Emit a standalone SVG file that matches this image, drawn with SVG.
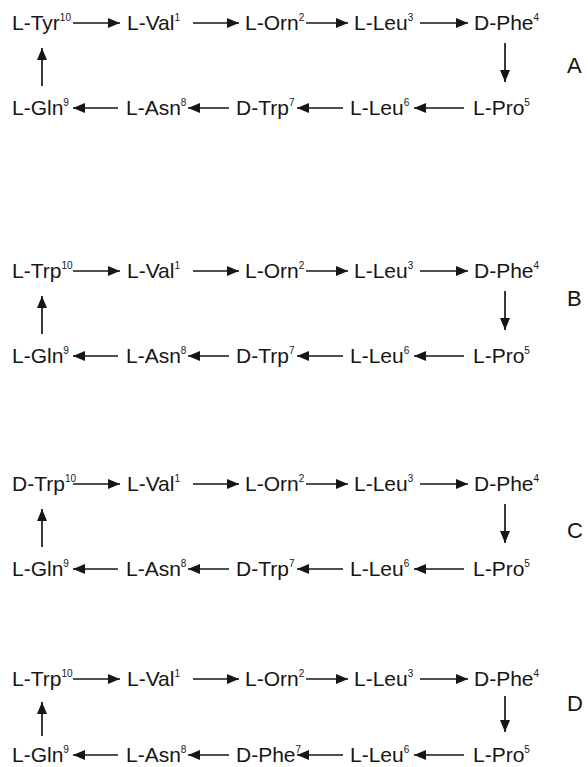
<svg xmlns="http://www.w3.org/2000/svg" width="588" height="767" viewBox="0 0 588 767">
<defs>
<style>
text{font-family:"Liberation Sans",Arial,sans-serif;font-size:21px;fill:#161616;}
.sup{font-size:10px;}
.lbl{font-size:22px;}
.c line{stroke:#161616;stroke-width:1.7;}
</style>
<marker id="ah" markerUnits="userSpaceOnUse" markerWidth="13" markerHeight="10" refX="12" refY="5" orient="auto">
<path d="M0,0 L12,5 L0,10 Z" fill="#161616"/>
</marker>
</defs>
<rect width="588" height="767" fill="#fff"/>

<!-- Panel A -->
<g id="panelA" transform="translate(0,0)">
<g id="A-n10"><text x="12" y="30">L-Tyr<tspan class="sup" dy="-9">10</tspan></text></g>
<g id="A-n1"><text x="127" y="30">L-Val<tspan class="sup" dy="-9">1</tspan></text></g>
<g id="A-n2"><text x="245" y="30">L-Orn<tspan class="sup" dy="-9">2</tspan></text></g>
<g id="A-n3"><text x="354" y="30">L-Leu<tspan class="sup" dy="-9">3</tspan></text></g>
<g id="A-n4"><text x="474" y="30">D-Phe<tspan class="sup" dy="-9">4</tspan></text></g>
<g id="A-n9"><text x="12" y="115">L-Gln<tspan class="sup" dy="-9">9</tspan></text></g>
<g id="A-n8"><text x="126" y="115">L-Asn<tspan class="sup" dy="-9">8</tspan></text></g>
<g id="A-n7"><text x="236" y="115">D-Trp<tspan class="sup" dy="-9">7</tspan></text></g>
<g id="A-n6"><text x="350" y="115">L-Leu<tspan class="sup" dy="-9">6</tspan></text></g>
<g id="A-n5"><text x="473" y="115">L-Pro<tspan class="sup" dy="-9">5</tspan></text></g>
<g id="A-label"><text class="lbl" x="567" y="73">A</text></g>
<g id="A-connectors" class="c">
<line x1="73" y1="23" x2="120" y2="23" marker-end="url(#ah)"/>
<line x1="193" y1="23" x2="239" y2="23" marker-end="url(#ah)"/>
<line x1="306" y1="23" x2="348" y2="23" marker-end="url(#ah)"/>
<line x1="420" y1="23" x2="468" y2="23" marker-end="url(#ah)"/>
<line x1="505" y1="43" x2="505" y2="82" marker-end="url(#ah)"/>
<line x1="464" y1="108" x2="414" y2="108" marker-end="url(#ah)"/>
<line x1="343" y1="108" x2="297" y2="108" marker-end="url(#ah)"/>
<line x1="229" y1="108" x2="188" y2="108" marker-end="url(#ah)"/>
<line x1="118" y1="108" x2="73" y2="108" marker-end="url(#ah)"/>
<line x1="42" y1="86" x2="42" y2="48" marker-end="url(#ah)"/>
</g>
</g>

<!-- Panel B -->
<g id="panelB" transform="translate(0,248)">
<g id="B-n10"><text x="12" y="30">L-Trp<tspan class="sup" dy="-9">10</tspan></text></g>
<g id="B-n1"><text x="127" y="30">L-Val<tspan class="sup" dy="-9">1</tspan></text></g>
<g id="B-n2"><text x="245" y="30">L-Orn<tspan class="sup" dy="-9">2</tspan></text></g>
<g id="B-n3"><text x="354" y="30">L-Leu<tspan class="sup" dy="-9">3</tspan></text></g>
<g id="B-n4"><text x="474" y="30">D-Phe<tspan class="sup" dy="-9">4</tspan></text></g>
<g id="B-n9"><text x="12" y="115">L-Gln<tspan class="sup" dy="-9">9</tspan></text></g>
<g id="B-n8"><text x="126" y="115">L-Asn<tspan class="sup" dy="-9">8</tspan></text></g>
<g id="B-n7"><text x="236" y="115">D-Trp<tspan class="sup" dy="-9">7</tspan></text></g>
<g id="B-n6"><text x="350" y="115">L-Leu<tspan class="sup" dy="-9">6</tspan></text></g>
<g id="B-n5"><text x="473" y="115">L-Pro<tspan class="sup" dy="-9">5</tspan></text></g>
<g id="B-label"><text class="lbl" x="567" y="58">B</text></g>
<g id="B-connectors" class="c">
<line x1="73" y1="23" x2="120" y2="23" marker-end="url(#ah)"/>
<line x1="193" y1="23" x2="239" y2="23" marker-end="url(#ah)"/>
<line x1="306" y1="23" x2="348" y2="23" marker-end="url(#ah)"/>
<line x1="420" y1="23" x2="468" y2="23" marker-end="url(#ah)"/>
<line x1="505" y1="43" x2="505" y2="82" marker-end="url(#ah)"/>
<line x1="464" y1="108" x2="414" y2="108" marker-end="url(#ah)"/>
<line x1="343" y1="108" x2="297" y2="108" marker-end="url(#ah)"/>
<line x1="229" y1="108" x2="188" y2="108" marker-end="url(#ah)"/>
<line x1="118" y1="108" x2="73" y2="108" marker-end="url(#ah)"/>
<line x1="42" y1="86" x2="42" y2="48" marker-end="url(#ah)"/>
</g>
</g>

<!-- Panel C -->
<g id="panelC" transform="translate(0,461)">
<g id="C-n10"><text x="12" y="30">D-Trp<tspan class="sup" dy="-9">10</tspan></text></g>
<g id="C-n1"><text x="127" y="30">L-Val<tspan class="sup" dy="-9">1</tspan></text></g>
<g id="C-n2"><text x="245" y="30">L-Orn<tspan class="sup" dy="-9">2</tspan></text></g>
<g id="C-n3"><text x="354" y="30">L-Leu<tspan class="sup" dy="-9">3</tspan></text></g>
<g id="C-n4"><text x="474" y="30">D-Phe<tspan class="sup" dy="-9">4</tspan></text></g>
<g id="C-n9"><text x="12" y="115">L-Gln<tspan class="sup" dy="-9">9</tspan></text></g>
<g id="C-n8"><text x="126" y="115">L-Asn<tspan class="sup" dy="-9">8</tspan></text></g>
<g id="C-n7"><text x="236" y="115">D-Trp<tspan class="sup" dy="-9">7</tspan></text></g>
<g id="C-n6"><text x="350" y="115">L-Leu<tspan class="sup" dy="-9">6</tspan></text></g>
<g id="C-n5"><text x="473" y="115">L-Pro<tspan class="sup" dy="-9">5</tspan></text></g>
<g id="C-label"><text class="lbl" x="567" y="77">C</text></g>
<g id="C-connectors" class="c">
<line x1="73" y1="23" x2="120" y2="23" marker-end="url(#ah)"/>
<line x1="193" y1="23" x2="239" y2="23" marker-end="url(#ah)"/>
<line x1="306" y1="23" x2="348" y2="23" marker-end="url(#ah)"/>
<line x1="420" y1="23" x2="468" y2="23" marker-end="url(#ah)"/>
<line x1="505" y1="43" x2="505" y2="82" marker-end="url(#ah)"/>
<line x1="464" y1="108" x2="414" y2="108" marker-end="url(#ah)"/>
<line x1="343" y1="108" x2="297" y2="108" marker-end="url(#ah)"/>
<line x1="229" y1="108" x2="188" y2="108" marker-end="url(#ah)"/>
<line x1="118" y1="108" x2="73" y2="108" marker-end="url(#ah)"/>
<line x1="42" y1="86" x2="42" y2="48" marker-end="url(#ah)"/>
</g>
</g>

<!-- Panel D -->
<g id="panelD" transform="translate(0,656)">
<g id="D-n10"><text x="12" y="30">L-Trp<tspan class="sup" dy="-9">10</tspan></text></g>
<g id="D-n1"><text x="127" y="30">L-Val<tspan class="sup" dy="-9">1</tspan></text></g>
<g id="D-n2"><text x="245" y="30">L-Orn<tspan class="sup" dy="-9">2</tspan></text></g>
<g id="D-n3"><text x="354" y="30">L-Leu<tspan class="sup" dy="-9">3</tspan></text></g>
<g id="D-n4"><text x="474" y="30">D-Phe<tspan class="sup" dy="-9">4</tspan></text></g>
<g id="D-n9"><text x="12" y="106">L-Gln<tspan class="sup" dy="-9">9</tspan></text></g>
<g id="D-n8"><text x="126" y="106">L-Asn<tspan class="sup" dy="-9">8</tspan></text></g>
<g id="D-n7"><text x="236" y="106">D-Phe<tspan class="sup" dy="-9">7</tspan></text></g>
<g id="D-n6"><text x="350" y="106">L-Leu<tspan class="sup" dy="-9">6</tspan></text></g>
<g id="D-n5"><text x="473" y="106">L-Pro<tspan class="sup" dy="-9">5</tspan></text></g>
<g id="D-label"><text class="lbl" x="567" y="55">D</text></g>
<g id="D-connectors" class="c">
<line x1="73" y1="23" x2="120" y2="23" marker-end="url(#ah)"/>
<line x1="193" y1="23" x2="239" y2="23" marker-end="url(#ah)"/>
<line x1="306" y1="23" x2="348" y2="23" marker-end="url(#ah)"/>
<line x1="420" y1="23" x2="468" y2="23" marker-end="url(#ah)"/>
<line x1="505" y1="40" x2="505" y2="76" marker-end="url(#ah)"/>
<line x1="464" y1="99" x2="414" y2="99" marker-end="url(#ah)"/>
<line x1="343" y1="99" x2="297" y2="99" marker-end="url(#ah)"/>
<line x1="229" y1="99" x2="188" y2="99" marker-end="url(#ah)"/>
<line x1="118" y1="99" x2="73" y2="99" marker-end="url(#ah)"/>
<line x1="42" y1="80" x2="42" y2="46" marker-end="url(#ah)"/>
</g>
</g>
</svg>
